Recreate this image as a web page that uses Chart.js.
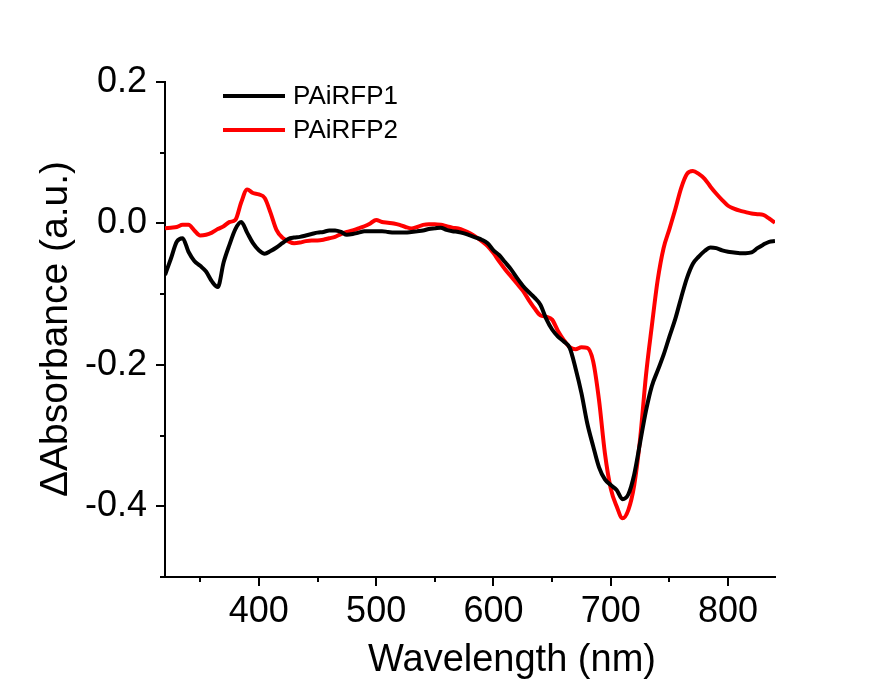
<!DOCTYPE html>
<html>
<head>
<meta charset="utf-8">
<title>PAiRFP difference spectra</title>
<script src="https://cdn.jsdelivr.net/npm/chart.js@4.4.1/dist/chart.umd.min.js"></script>
<style>
  html, body { margin: 0; padding: 0; background: #fff; }
  #wrap { width: 885px; height: 684px; }
</style>
</head>
<body>
<div id="wrap"><canvas id="specChart" width="885" height="684"></canvas></div>
<script>
// wavelength grid (nm)
var wavelength = [];
for (var w = 320; w <= 840; w += 5) wavelength.push(w);

// difference absorbance, PAiRFP1
var pairfp1 = [
  -0.073, -0.050, -0.026, -0.021, -0.040, -0.053, -0.060, -0.068, -0.082, -0.090,
  -0.055, -0.030, -0.008, 0.002, -0.013, -0.028, -0.038, -0.043, -0.039, -0.034,
  -0.028, -0.022, -0.020, -0.019, -0.017, -0.015, -0.013, -0.012, -0.010, -0.010,
  -0.012, -0.016, -0.015, -0.013, -0.011, -0.011, -0.011, -0.011, -0.012, -0.013,
  -0.013, -0.013, -0.012, -0.011, -0.010, -0.008, -0.007, -0.006, -0.009, -0.011,
  -0.012, -0.014, -0.017, -0.020, -0.023, -0.028, -0.038, -0.045, -0.055, -0.065,
  -0.077, -0.088, -0.097, -0.105, -0.115, -0.135, -0.150, -0.160, -0.167, -0.176,
  -0.205, -0.240, -0.283, -0.315, -0.345, -0.362, -0.370, -0.377, -0.390, -0.383,
  -0.355, -0.310, -0.265, -0.230, -0.208, -0.186, -0.160, -0.135, -0.105, -0.077,
  -0.057, -0.047, -0.039, -0.034, -0.035, -0.038, -0.040, -0.041, -0.042, -0.042,
  -0.041, -0.035, -0.030, -0.026, -0.025
];

// difference absorbance, PAiRFP2
var pairfp2 = [
  -0.007, -0.006, -0.005, -0.002, -0.002, -0.010, -0.017, -0.016, -0.013, -0.008,
  -0.004, 0.002, 0.005, 0.030, 0.048, 0.043, 0.041, 0.036, 0.015, -0.009,
  -0.020, -0.025, -0.028, -0.027, -0.025, -0.024, -0.024, -0.023, -0.021, -0.019,
  -0.015, -0.012, -0.010, -0.007, -0.004, 0.000, 0.005, 0.002, 0.001, 0.000,
  -0.002, -0.005, -0.007, -0.005, -0.002, -0.001, -0.001, -0.002, -0.004, -0.006,
  -0.007, -0.010, -0.014, -0.019, -0.025, -0.032, -0.042, -0.054, -0.065, -0.075,
  -0.085, -0.095, -0.108, -0.120, -0.130, -0.132, -0.136, -0.152, -0.165, -0.175,
  -0.178, -0.175, -0.176, -0.195, -0.250, -0.325, -0.375, -0.400, -0.417, -0.405,
  -0.370, -0.305, -0.215, -0.145, -0.080, -0.035, -0.008, 0.020, 0.050, 0.070,
  0.074, 0.070, 0.063, 0.052, 0.042, 0.033, 0.025, 0.021, 0.018, 0.016,
  0.014, 0.013, 0.012, 0.007, 0.001
];

var xTickValues = [350, 400, 450, 500, 550, 600, 650, 700, 750, 800];
var yTickValues = [-0.5, -0.4, -0.3, -0.2, -0.1, 0.0, 0.1, 0.2];

var FONT = '"Liberation Sans", Arial, sans-serif';

function toPoints(ys) {
  return wavelength.map(function (x, i) { return {x: x, y: ys[i]}; });
}

// tick marks, axis titles and legend drawn on top of the library's scales
var axisDecor = {
  id: 'axisDecor',
  afterDraw: function (chart) {
    var ctx = chart.ctx;
    var area = chart.chartArea;
    var xs = chart.scales.x, ys = chart.scales.y;
    ctx.save();
    ctx.strokeStyle = '#000';
    ctx.lineWidth = 2;
    ctx.beginPath();
    xs.ticks.forEach(function (t) {
      var px = Math.round(xs.getPixelForValue(t.value));
      var len = t.value % 100 === 0 ? 9 : 5;
      ctx.moveTo(px, area.bottom);
      ctx.lineTo(px, area.bottom + len);
    });
    ys.ticks.forEach(function (t) {
      var py = Math.round(ys.getPixelForValue(t.value));
      var len = Math.round(t.value * 10) % 2 === 0 ? 9 : 5;
      ctx.moveTo(area.left, py);
      ctx.lineTo(area.left - len, py);
    });
    ctx.stroke();

    ctx.fillStyle = '#000';
    ctx.textAlign = 'center';
    ctx.textBaseline = 'alphabetic';
    ctx.font = '38px ' + FONT;
    ctx.fillText('Wavelength (nm)', 512, 671);

    ctx.font = '39px ' + FONT;
    ctx.translate(67, 329);
    ctx.rotate(-Math.PI / 2);
    ctx.fillText('\u0394Absorbance (a.u.)', 0, 0);
    ctx.restore();

    // legend
    ctx.save();
    ctx.font = '26px ' + FONT;
    ctx.textAlign = 'left';
    ctx.textBaseline = 'middle';
    chart.data.datasets.forEach(function (ds, i) {
      var y = 96 + i * 34;
      ctx.strokeStyle = ds.borderColor;
      ctx.lineWidth = 4;
      ctx.beginPath();
      ctx.moveTo(223, y);
      ctx.lineTo(285, y);
      ctx.stroke();
      ctx.fillStyle = '#000';
      ctx.fillText(ds.label, 293, y + 1);
    });
    ctx.restore();
  }
};

var specChart = new Chart(document.getElementById('specChart'), {
  type: 'line',
  data: {
    datasets: [
      {
        label: 'PAiRFP1',
        data: toPoints(pairfp1),
        borderColor: '#000000',
        backgroundColor: '#000000',
        borderWidth: 4,
        pointRadius: 0,
        cubicInterpolationMode: 'monotone',
        fill: false
      },
      {
        label: 'PAiRFP2',
        data: toPoints(pairfp2),
        borderColor: '#ff0000',
        backgroundColor: '#ff0000',
        borderWidth: 4,
        pointRadius: 0,
        cubicInterpolationMode: 'monotone',
        fill: false
      }
    ]
  },
  options: {
    responsive: false,
    animation: false,
    layout: { padding: { top: 82, right: 110, left: 0, bottom: 0 } },
    plugins: {
      legend: { display: false },
      tooltip: { enabled: false }
    },
    scales: {
      x: {
        type: 'linear',
        min: 320,
        max: 840,
        afterBuildTicks: function (scale) {
          scale.ticks = xTickValues.map(function (v) { return {value: v}; });
        },
        afterFit: function (scale) { scale.height = 107; },
        grid: { display: false, drawTicks: false },
        border: { display: true, color: '#000', width: 2 },
        ticks: {
          color: '#000',
          padding: 13,
          maxRotation: 0,
          autoSkip: false,
          font: { family: FONT, size: 36 },
          callback: function (v) { return v % 100 === 0 ? String(v) : ''; }
        }
      },
      y: {
        type: 'linear',
        min: -0.5,
        max: 0.2,
        afterBuildTicks: function (scale) {
          scale.ticks = yTickValues.map(function (v) { return {value: v}; });
        },
        afterFit: function (scale) { scale.width = 165; },
        grid: { display: false, drawTicks: false },
        border: { display: true, color: '#000', width: 2 },
        ticks: {
          color: '#000',
          padding: 18,
          autoSkip: false,
          font: { family: FONT, size: 36 },
          callback: function (v) {
            return Math.round(v * 10) % 2 === 0 ? v.toFixed(1) : '';
          }
        }
      }
    }
  },
  plugins: [axisDecor]
});
</script>
</body>
</html>
